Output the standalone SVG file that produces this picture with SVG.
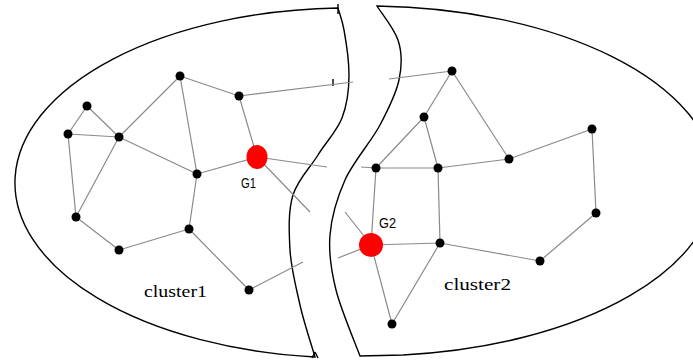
<svg xmlns="http://www.w3.org/2000/svg" width="693" height="360" viewBox="0 0 693 360">
<style>
.bd{fill:none;stroke:#000;stroke-width:1.4}
.ed{stroke:#8a8a8a;stroke-width:1.2;fill:none}
.nd{fill:#000}
.g{fill:#f00}
.lb{font-family:"Liberation Serif",serif;font-size:17px;fill:#000}
.gl{font-family:"Liberation Sans",sans-serif;font-size:15px;fill:#000}
</style>
<rect width="693" height="360" fill="#fff"/>
<g id="boundaries">
<path id="cluster1-boundary" class="bd" d="M338,8 A334,175 0 0 0 315,357 C312.5,348 304,323 300,305 C296,287 291,268 290,250 C289,232 288,211 293,195 C298,179 310,168 318,155 C326,142 337,131 342,118 C347,105 349,90 349,75 C349,60 346,41 344,30 C342,19 339,12 338,8 Z"/>
<path id="cluster2-boundary" class="bd" d="M377,6 A348,175 0 0 1 403,355 L360,356 C356,345 341,310 336,290 C331,270 328.5,253 330,235 C331.5,217 337,198 345,180 C353,162 371,142 380,125 C389,108 396,94 399,80 C402,66 402,52 398,40 C394,28 380.5,12 377,6 Z"/>
<path class="bd" d="M338,4 V14 M333,79 V86 M315,352 L312,358 M315,352 L318,358" stroke-width="1"/>
</g>
<g id="connectors">
<path class="ed" d="M87,106 L68,134 M87,106 L119,137 M68,134 L119,137 M68,134 L76,217 M119,137 L76,217 M119,137 L180,76 M119,137 L197,174 M180,76 L197,174 M180,76 L239,96 M239,96 L257,157 M239,96 L353,82 M257,157 L197,174 M197,174 L189,229 M76,217 L119,250 M119,250 L189,229 M189,229 L249,290 M249,290 L303,262 M257,157 L327,167 M257,157 L310,212"/>
<path class="ed" d="M389,79 L452,71 M452,71 L424,117 M452,71 L509,159 M424,117 L376,168 M424,117 L438,168 M376,168 L438,168 M361,167 L376,168 M438,168 L509,159 M509,159 L592,129 M592,129 L596,213 M596,213 L540,261 M376,168 L371,245 M438,168 L440,243 M371,245 L440,243 M440,243 L540,261 M371,245 L392,324 M440,243 L392,324 M371,245 L345,212 M371,245 L338,258"/>
</g>
<g id="n1"><circle class="nd" cx="180" cy="76" r="4.5"/></g>
<g id="n2"><circle class="nd" cx="239" cy="96" r="4.5"/></g>
<g id="n3"><circle class="nd" cx="87" cy="106" r="4.5"/></g>
<g id="n4"><circle class="nd" cx="68" cy="134" r="4.5"/></g>
<g id="n5"><circle class="nd" cx="119" cy="137" r="4.5"/></g>
<g id="n6"><circle class="nd" cx="197" cy="174" r="4.5"/></g>
<g id="n7"><circle class="nd" cx="76" cy="217" r="4.5"/></g>
<g id="n8"><circle class="nd" cx="119" cy="250" r="4.5"/></g>
<g id="n9"><circle class="nd" cx="189" cy="229" r="4.5"/></g>
<g id="n10"><circle class="nd" cx="249" cy="290" r="4.5"/></g>
<g id="G1"><ellipse class="g" cx="257" cy="157" rx="10.5" ry="12"/><text class="gl" x="241" y="188" textLength="15" lengthAdjust="spacingAndGlyphs">G1</text></g>
<g id="m1"><circle class="nd" cx="452" cy="71" r="4.5"/></g>
<g id="m2"><circle class="nd" cx="424" cy="117" r="4.5"/></g>
<g id="m3"><circle class="nd" cx="592" cy="129" r="4.5"/></g>
<g id="m4"><circle class="nd" cx="509" cy="159" r="4.5"/></g>
<g id="m5"><circle class="nd" cx="376" cy="168" r="4.5"/></g>
<g id="m6"><circle class="nd" cx="438" cy="168" r="4.5"/></g>
<g id="m7"><circle class="nd" cx="596" cy="213" r="4.5"/></g>
<g id="m8"><circle class="nd" cx="440" cy="243" r="4.5"/></g>
<g id="m9"><circle class="nd" cx="540" cy="261" r="4.5"/></g>
<g id="m10"><circle class="nd" cx="392" cy="324" r="4.5"/></g>
<g id="G2"><ellipse class="g" cx="371" cy="245" rx="12" ry="12"/><text class="gl" x="379" y="228" textLength="17" lengthAdjust="spacingAndGlyphs">G2</text></g>
<g id="labels">
<text class="lb" x="144" y="297" textLength="63" lengthAdjust="spacingAndGlyphs">cluster1</text>
<text class="lb" x="444" y="290" textLength="67" lengthAdjust="spacingAndGlyphs">cluster2</text>
</g>
</svg>
